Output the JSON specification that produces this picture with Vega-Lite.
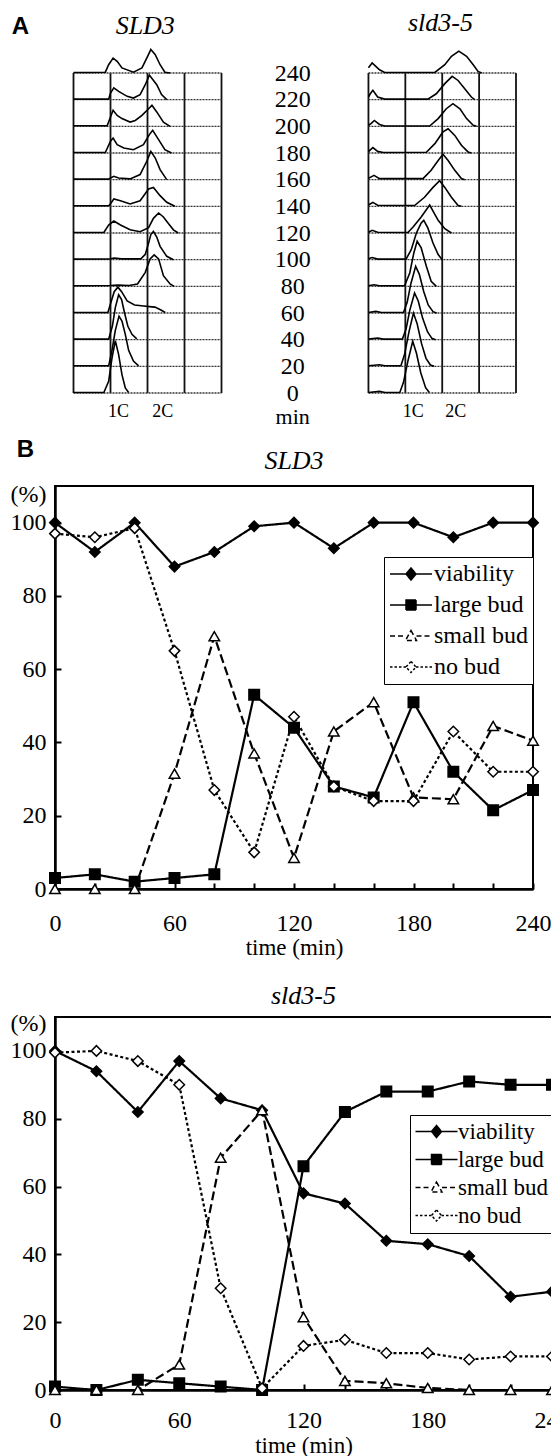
{
  "$schema": "https://vega.github.io/schema/vega-lite/v6.json",
  "background": "white",
  "padding": {"left": 9, "top": 9, "right": 0, "bottom": 0},
  "config": {
    "font": "Liberation Serif",
    "view": {"stroke": null},
    "axis": {"labelFont": "Liberation Serif", "titleFont": "Liberation Serif", "labelColor": "#000", "titleColor": "#000", "titleFontWeight": "normal", "tickColor": "#000", "domainColor": "#000"},
    "title": {"font": "Liberation Serif", "fontStyle": "italic", "fontWeight": "normal", "color": "#000", "fontSize": 26},
    "legend": {"labelFont": "Liberation Serif", "labelColor": "#000"}
  },
  "datasets": {
    "histL": [
      {"t":240,"d":0,"c":0.02},{"t":240,"d":0.5,"c":0.02},{"t":240,"d":0.86,"c":0.03},{"t":240,"d":0.95,"c":0.31},{"t":240,"d":1.07,"c":0.56},{"t":240,"d":1.18,"c":0.44},{"t":240,"d":1.31,"c":0.19},{"t":240,"d":1.62,"c":0.03},{"t":240,"d":1.85,"c":0.19},{"t":240,"d":1.98,"c":0.56},{"t":240,"d":2.09,"c":0.88},{"t":240,"d":2.21,"c":0.69},{"t":240,"d":2.34,"c":0.31},{"t":240,"d":2.47,"c":0.03},{"t":240,"d":2.61,"c":0},
      {"t":220,"d":0,"c":0.02},{"t":220,"d":0.95,"c":0.02},{"t":220,"d":1.0,"c":0.25},{"t":220,"d":1.09,"c":0.44},{"t":220,"d":1.22,"c":0.31},{"t":220,"d":1.45,"c":0.125},{"t":220,"d":1.62,"c":0.06},{"t":220,"d":1.8,"c":0.19},{"t":220,"d":1.94,"c":0.56},{"t":220,"d":2.05,"c":0.92},{"t":220,"d":2.25,"c":0.56},{"t":220,"d":2.38,"c":0.19},{"t":220,"d":2.52,"c":0},
      {"t":200,"d":0,"c":0.02},{"t":200,"d":0.91,"c":0.02},{"t":200,"d":1.0,"c":0.35},{"t":200,"d":1.07,"c":0.6},{"t":200,"d":1.18,"c":0.41},{"t":200,"d":1.31,"c":0.29},{"t":200,"d":1.53,"c":0.16},{"t":200,"d":1.67,"c":0.22},{"t":200,"d":1.85,"c":0.41},{"t":200,"d":2.03,"c":0.66},{"t":200,"d":2.12,"c":0.79},{"t":200,"d":2.25,"c":0.54},{"t":200,"d":2.43,"c":0.16},{"t":200,"d":2.61,"c":0},
      {"t":180,"d":0,"c":0.02},{"t":180,"d":0.86,"c":0.02},{"t":180,"d":1.0,"c":0.44},{"t":180,"d":1.07,"c":0.56},{"t":180,"d":1.18,"c":0.31},{"t":180,"d":1.36,"c":0.19},{"t":180,"d":1.62,"c":0.125},{"t":180,"d":1.89,"c":0.31},{"t":180,"d":2.05,"c":0.69},{"t":180,"d":2.14,"c":0.85},{"t":180,"d":2.3,"c":0.5},{"t":180,"d":2.47,"c":0.125},{"t":180,"d":2.65,"c":0},
      {"t":160,"d":0,"c":0.02},{"t":160,"d":0.95,"c":0.02},{"t":160,"d":1.0,"c":0.06},{"t":160,"d":1.09,"c":0.125},{"t":160,"d":1.22,"c":0.06},{"t":160,"d":1.53,"c":0.03},{"t":160,"d":1.8,"c":0.19},{"t":160,"d":1.98,"c":0.69},{"t":160,"d":2.09,"c":1.06},{"t":160,"d":2.21,"c":0.81},{"t":160,"d":2.34,"c":0.375},{"t":160,"d":2.52,"c":0},
      {"t":140,"d":0,"c":0.02},{"t":140,"d":0.95,"c":0.02},{"t":140,"d":1.0,"c":0.1},{"t":140,"d":1.09,"c":0.275},{"t":140,"d":1.27,"c":0.21},{"t":140,"d":1.53,"c":0.09},{"t":140,"d":1.8,"c":0.21},{"t":140,"d":2.03,"c":0.65},{"t":140,"d":2.16,"c":0.71},{"t":140,"d":2.34,"c":0.4},{"t":140,"d":2.52,"c":0.15},{"t":140,"d":2.74,"c":0},
      {"t":120,"d":0,"c":0.02},{"t":120,"d":0.82,"c":0.02},{"t":120,"d":0.95,"c":0.3},{"t":120,"d":1.09,"c":0.45},{"t":120,"d":1.27,"c":0.3},{"t":120,"d":1.53,"c":0.12},{"t":120,"d":1.8,"c":0.05},{"t":120,"d":2.03,"c":0.2},{"t":120,"d":2.16,"c":0.55},{"t":120,"d":2.3,"c":0.75},{"t":120,"d":2.43,"c":0.6},{"t":120,"d":2.57,"c":0.35},{"t":120,"d":2.7,"c":0.12},{"t":120,"d":2.83,"c":0},
      {"t":100,"d":0,"c":0.02},{"t":100,"d":1.0,"c":0.03},{"t":100,"d":1.1,"c":0.06},{"t":100,"d":1.3,"c":0.03},{"t":100,"d":1.82,"c":0.03},{"t":100,"d":1.94,"c":0.2},{"t":100,"d":2.03,"c":0.62},{"t":100,"d":2.09,"c":0.94},{"t":100,"d":2.16,"c":1.06},{"t":100,"d":2.25,"c":0.85},{"t":100,"d":2.34,"c":0.5},{"t":100,"d":2.52,"c":0.125},{"t":100,"d":2.7,"c":0},
      {"t":80,"d":0,"c":0.02},{"t":80,"d":1.0,"c":0.03},{"t":80,"d":1.2,"c":0.05},{"t":80,"d":1.5,"c":0.03},{"t":80,"d":1.73,"c":0.09},{"t":80,"d":1.94,"c":0.525},{"t":80,"d":2.07,"c":1.03},{"t":80,"d":2.18,"c":1.18},{"t":80,"d":2.3,"c":1.03},{"t":80,"d":2.43,"c":0.4},{"t":80,"d":2.61,"c":0.09},{"t":80,"d":2.72,"c":0},
      {"t":60,"d":0,"c":0.02},{"t":60,"d":0.93,"c":0.02},{"t":60,"d":1.0,"c":0.35},{"t":60,"d":1.1,"c":0.8},{"t":60,"d":1.2,"c":0.97},{"t":60,"d":1.3,"c":0.8},{"t":60,"d":1.45,"c":0.45},{"t":60,"d":1.65,"c":0.3},{"t":60,"d":1.9,"c":0.26},{"t":60,"d":2.05,"c":0.24},{"t":60,"d":2.2,"c":0.22},{"t":60,"d":2.35,"c":0.12},{"t":60,"d":2.48,"c":0.02},
      {"t":40,"d":0,"c":0.02},{"t":40,"d":0.95,"c":0.02},{"t":40,"d":1.05,"c":0.5},{"t":40,"d":1.13,"c":1.2},{"t":40,"d":1.22,"c":1.68},{"t":40,"d":1.3,"c":1.5},{"t":40,"d":1.38,"c":1.0},{"t":40,"d":1.47,"c":0.5},{"t":40,"d":1.58,"c":0.2},{"t":40,"d":1.71,"c":0.03},
      {"t":20,"d":0,"c":0.02},{"t":20,"d":0.95,"c":0.02},{"t":20,"d":1.04,"c":0.6},{"t":20,"d":1.13,"c":1.35},{"t":20,"d":1.23,"c":1.88},{"t":20,"d":1.31,"c":1.7},{"t":20,"d":1.4,"c":1.2},{"t":20,"d":1.49,"c":0.6},{"t":20,"d":1.62,"c":0.2},{"t":20,"d":1.76,"c":0.02},
      {"t":0,"d":0,"c":0.02},{"t":0,"d":0.82,"c":0.02},{"t":0,"d":0.95,"c":0.44},{"t":0,"d":1.04,"c":1.31},{"t":0,"d":1.13,"c":1.96},{"t":0,"d":1.22,"c":1.44},{"t":0,"d":1.31,"c":0.69},{"t":0,"d":1.4,"c":0.19},{"t":0,"d":1.49,"c":0.02}
    ],
    "histR": [
      {"t":240,"d":0,"c":0.2},{"t":240,"d":0.1,"c":0.375},{"t":240,"d":0.2,"c":0.25},{"t":240,"d":0.3,"c":0.12},{"t":240,"d":0.44,"c":0.02},{"t":240,"d":1.8,"c":0.02},{"t":240,"d":2.07,"c":0.31},{"t":240,"d":2.25,"c":0.625},{"t":240,"d":2.45,"c":0.82},{"t":240,"d":2.66,"c":0.625},{"t":240,"d":2.84,"c":0.31},{"t":240,"d":2.97,"c":0.06},{"t":240,"d":3.07,"c":0},
      {"t":220,"d":0,"c":0.1},{"t":220,"d":0.05,"c":0.22},{"t":220,"d":0.12,"c":0.35},{"t":220,"d":0.25,"c":0.1},{"t":220,"d":0.44,"c":0.02},{"t":220,"d":1.61,"c":0.02},{"t":220,"d":1.84,"c":0.22},{"t":220,"d":2.07,"c":0.6},{"t":220,"d":2.27,"c":0.875},{"t":220,"d":2.43,"c":0.72},{"t":220,"d":2.61,"c":0.41},{"t":220,"d":2.79,"c":0.1},{"t":220,"d":2.88,"c":0},
      {"t":200,"d":0,"c":0.04},{"t":200,"d":0.07,"c":0.1},{"t":200,"d":0.16,"c":0.22},{"t":200,"d":0.3,"c":0.07},{"t":200,"d":0.44,"c":0.01},{"t":200,"d":1.66,"c":0.01},{"t":200,"d":1.89,"c":0.29},{"t":200,"d":2.11,"c":0.66},{"t":200,"d":2.29,"c":0.85},{"t":200,"d":2.48,"c":0.66},{"t":200,"d":2.66,"c":0.29},{"t":200,"d":2.84,"c":0.04},{"t":200,"d":2.93,"c":0},
      {"t":180,"d":0,"c":0.05},{"t":180,"d":0.12,"c":0.2},{"t":180,"d":0.25,"c":0.06},{"t":180,"d":0.4,"c":0.02},{"t":180,"d":1.57,"c":0.03},{"t":180,"d":1.8,"c":0.35},{"t":180,"d":2.02,"c":0.79},{"t":180,"d":2.16,"c":0.91},{"t":180,"d":2.34,"c":0.66},{"t":180,"d":2.52,"c":0.29},{"t":180,"d":2.7,"c":0.04},{"t":180,"d":2.79,"c":0},
      {"t":160,"d":0,"c":0.05},{"t":160,"d":0.15,"c":0.16},{"t":160,"d":0.3,"c":0.04},{"t":160,"d":1.48,"c":0.04},{"t":160,"d":1.7,"c":0.35},{"t":160,"d":1.89,"c":0.72},{"t":160,"d":2.02,"c":0.95},{"t":160,"d":2.16,"c":0.72},{"t":160,"d":2.34,"c":0.35},{"t":160,"d":2.52,"c":0.04},{"t":160,"d":2.61,"c":0},
      {"t":140,"d":0,"c":0.05},{"t":140,"d":0.12,"c":0.15},{"t":140,"d":0.25,"c":0.04},{"t":140,"d":1.25,"c":0.03},{"t":140,"d":1.52,"c":0.34},{"t":140,"d":1.75,"c":0.71},{"t":140,"d":1.93,"c":0.96},{"t":140,"d":2.07,"c":0.71},{"t":140,"d":2.25,"c":0.34},{"t":140,"d":2.43,"c":0.03},{"t":140,"d":2.52,"c":0},
      {"t":120,"d":0,"c":0.03},{"t":120,"d":0.1,"c":0.1},{"t":120,"d":0.25,"c":0.03},{"t":120,"d":1.07,"c":0.02},{"t":120,"d":1.21,"c":0.225},{"t":120,"d":1.43,"c":0.6},{"t":120,"d":1.66,"c":1.05},{"t":120,"d":1.89,"c":0.475},{"t":120,"d":2.07,"c":0.16},{"t":120,"d":2.25,"c":0},
      {"t":100,"d":0,"c":0.03},{"t":100,"d":0.1,"c":0.08},{"t":100,"d":0.25,"c":0.02},{"t":100,"d":1.02,"c":0.02},{"t":100,"d":1.16,"c":0.375},{"t":100,"d":1.3,"c":1.0},{"t":100,"d":1.43,"c":1.375},{"t":100,"d":1.5,"c":1.475},{"t":100,"d":1.61,"c":1.19},{"t":100,"d":1.75,"c":0.625},{"t":100,"d":1.89,"c":0.19},{"t":100,"d":2.0,"c":0},
      {"t":80,"d":0,"c":0.02},{"t":80,"d":0.15,"c":0.06},{"t":80,"d":0.3,"c":0.02},{"t":80,"d":0.98,"c":0.02},{"t":80,"d":1.12,"c":0.5},{"t":80,"d":1.23,"c":1.25},{"t":80,"d":1.32,"c":1.69},{"t":80,"d":1.43,"c":1.44},{"t":80,"d":1.57,"c":0.75},{"t":80,"d":1.7,"c":0.19},{"t":80,"d":1.84,"c":0},
      {"t":60,"d":0,"c":0.02},{"t":60,"d":0.2,"c":0.06},{"t":60,"d":0.35,"c":0.02},{"t":60,"d":0.95,"c":0.02},{"t":60,"d":1.05,"c":0.4},{"t":60,"d":1.15,"c":1.1},{"t":60,"d":1.28,"c":1.75},{"t":60,"d":1.38,"c":1.45},{"t":60,"d":1.5,"c":0.8},{"t":60,"d":1.62,"c":0.3},{"t":60,"d":1.75,"c":0.05},{"t":60,"d":1.85,"c":0},
      {"t":40,"d":0,"c":0.02},{"t":40,"d":0.25,"c":0.06},{"t":40,"d":0.4,"c":0.02},{"t":40,"d":0.92,"c":0.02},{"t":40,"d":1.02,"c":0.4},{"t":40,"d":1.12,"c":1.1},{"t":40,"d":1.25,"c":1.75},{"t":40,"d":1.35,"c":1.45},{"t":40,"d":1.47,"c":0.8},{"t":40,"d":1.6,"c":0.3},{"t":40,"d":1.72,"c":0.05},{"t":40,"d":1.82,"c":0},
      {"t":20,"d":0,"c":0.02},{"t":20,"d":0.3,"c":0.06},{"t":20,"d":0.45,"c":0.02},{"t":20,"d":0.88,"c":0.02},{"t":20,"d":0.98,"c":0.45},{"t":20,"d":1.1,"c":1.3},{"t":20,"d":1.22,"c":2.0},{"t":20,"d":1.32,"c":1.6},{"t":20,"d":1.44,"c":0.85},{"t":20,"d":1.56,"c":0.3},{"t":20,"d":1.68,"c":0.05},{"t":20,"d":1.78,"c":0},
      {"t":0,"d":0,"c":0.02},{"t":0,"d":0.3,"c":0.06},{"t":0,"d":0.45,"c":0.02},{"t":0,"d":0.85,"c":0.02},{"t":0,"d":0.95,"c":0.4},{"t":0,"d":1.07,"c":1.2},{"t":0,"d":1.2,"c":1.94},{"t":0,"d":1.3,"c":1.5},{"t":0,"d":1.42,"c":0.75},{"t":0,"d":1.55,"c":0.2},{"t":0,"d":1.65,"c":0.02}
    ],
    "bud1": [
      {"time":0,"series":"viability","v":100},{"time":20,"series":"viability","v":92},{"time":40,"series":"viability","v":100},{"time":60,"series":"viability","v":88},{"time":80,"series":"viability","v":92},{"time":100,"series":"viability","v":99},{"time":120,"series":"viability","v":100},{"time":140,"series":"viability","v":93},{"time":160,"series":"viability","v":100},{"time":180,"series":"viability","v":100},{"time":200,"series":"viability","v":96},{"time":220,"series":"viability","v":100},{"time":240,"series":"viability","v":100},
      {"time":0,"series":"large bud","v":3},{"time":20,"series":"large bud","v":4},{"time":40,"series":"large bud","v":2},{"time":60,"series":"large bud","v":3},{"time":80,"series":"large bud","v":4},{"time":100,"series":"large bud","v":53},{"time":120,"series":"large bud","v":44},{"time":140,"series":"large bud","v":28},{"time":160,"series":"large bud","v":25},{"time":180,"series":"large bud","v":51},{"time":200,"series":"large bud","v":32},{"time":220,"series":"large bud","v":21.5},{"time":240,"series":"large bud","v":27},
      {"time":0,"series":"small bud","v":0},{"time":20,"series":"small bud","v":0},{"time":40,"series":"small bud","v":0},{"time":60,"series":"small bud","v":31.5},{"time":80,"series":"small bud","v":69},{"time":100,"series":"small bud","v":37},{"time":120,"series":"small bud","v":8.5},{"time":140,"series":"small bud","v":43},{"time":160,"series":"small bud","v":51},{"time":180,"series":"small bud","v":25},{"time":200,"series":"small bud","v":24.5},{"time":220,"series":"small bud","v":44.5},{"time":240,"series":"small bud","v":40.5},
      {"time":0,"series":"no bud","v":97},{"time":20,"series":"no bud","v":96},{"time":40,"series":"no bud","v":98.5},{"time":60,"series":"no bud","v":65},{"time":80,"series":"no bud","v":27},{"time":100,"series":"no bud","v":10},{"time":120,"series":"no bud","v":47},{"time":140,"series":"no bud","v":28},{"time":160,"series":"no bud","v":24},{"time":180,"series":"no bud","v":24},{"time":200,"series":"no bud","v":43},{"time":220,"series":"no bud","v":32},{"time":240,"series":"no bud","v":32}
    ],
    "bud2": [
      {"time":0,"series":"viability","v":100},{"time":20,"series":"viability","v":94},{"time":40,"series":"viability","v":82},{"time":60,"series":"viability","v":97},{"time":80,"series":"viability","v":86},{"time":100,"series":"viability","v":82.5},{"time":120,"series":"viability","v":58},{"time":140,"series":"viability","v":55},{"time":160,"series":"viability","v":44},{"time":180,"series":"viability","v":43},{"time":200,"series":"viability","v":39.5},{"time":220,"series":"viability","v":27.5},{"time":240,"series":"viability","v":29},
      {"time":0,"series":"large bud","v":1},{"time":20,"series":"large bud","v":0},{"time":40,"series":"large bud","v":3},{"time":60,"series":"large bud","v":2},{"time":80,"series":"large bud","v":1},{"time":100,"series":"large bud","v":0},{"time":120,"series":"large bud","v":66},{"time":140,"series":"large bud","v":82},{"time":160,"series":"large bud","v":88},{"time":180,"series":"large bud","v":88},{"time":200,"series":"large bud","v":91},{"time":220,"series":"large bud","v":90},{"time":240,"series":"large bud","v":90},
      {"time":0,"series":"small bud","v":0},{"time":20,"series":"small bud","v":0},{"time":40,"series":"small bud","v":0},{"time":60,"series":"small bud","v":7.5},{"time":80,"series":"small bud","v":68.5},{"time":100,"series":"small bud","v":82.5},{"time":120,"series":"small bud","v":21.5},{"time":140,"series":"small bud","v":2.7},{"time":160,"series":"small bud","v":2},{"time":180,"series":"small bud","v":0.6},{"time":200,"series":"small bud","v":0},{"time":220,"series":"small bud","v":0},{"time":240,"series":"small bud","v":0},
      {"time":0,"series":"no bud","v":99.5},{"time":20,"series":"no bud","v":100},{"time":40,"series":"no bud","v":97},{"time":60,"series":"no bud","v":90},{"time":80,"series":"no bud","v":30},{"time":100,"series":"no bud","v":0.5},{"time":120,"series":"no bud","v":13},{"time":140,"series":"no bud","v":14.8},{"time":160,"series":"no bud","v":10.9},{"time":180,"series":"no bud","v":10.9},{"time":200,"series":"no bud","v":9},{"time":220,"series":"no bud","v":9.9},{"time":240,"series":"no bud","v":9.9}
    ]
  },
  "concat": [
    {
      "hconcat": [
        {
          "width": 166.5, "height": 320,
          "view": {"stroke": null},
          "title": {"text": "SLD3", "dx": 7, "offset": -25},
          "layer": [
            {"data": {"values": [{"g":0},{"g":1},{"g":2},{"g":3},{"g":4}]},
             "mark": {"type": "rule", "color": "#111", "strokeWidth": 1.8},
             "encoding": {"x": {"field": "g", "type": "quantitative", "scale": {"domain": [-0.5, 4], "nice": false, "zero": false},
               "axis": {"values": [1.2, 2.4], "labelExpr": "datum.value < 2 ? '1C' : '2C'", "title": null, "ticks": false, "domain": false, "grid": false, "labelFontSize": 18, "labelPadding": 9, "labelFlush": false, "labelOverlap": false}}}},
            {"data": {"name": "histL"}, "transform": [{"aggregate": [{"op": "count", "as": "n"}], "groupby": ["t"]}],
             "mark": {"type": "rule", "color": "#333", "strokeWidth": 1.3, "strokeDash": [2, 1]},
             "encoding": {
               "y": {"field": "t", "type": "ordinal", "scale": {"type": "point", "padding": 0, "domain": [240,220,200,180,160,140,120,100,80,60,40,20,0]},
                 "axis": {"title": "A", "labels": false, "ticks": false, "domain": false, "grid": false, "titleFont": "Liberation Sans", "titleFontWeight": "bold", "titleFontSize": 24, "titleAngle": 0, "titleAlign": "center", "titleBaseline": "middle", "titleX": -35, "titleY": -47}},
               "x": {"datum": 0}, "x2": {"datum": 4}}},
            {"data": {"name": "histL"},
             "mark": {"type": "line", "color": "#000", "strokeWidth": 1.6},
             "encoding": {
               "x": {"field": "d", "type": "quantitative", "scale": {"domain": [-0.5, 4], "nice": false, "zero": false}},
               "y": {"field": "t", "type": "ordinal", "scale": {"type": "point", "padding": 0, "domain": [240,220,200,180,160,140,120,100,80,60,40,20,0]}},
               "yOffset": {"field": "c", "type": "quantitative", "scale": {"domain": [0, 1], "range": [0, -26.667], "nice": false, "zero": false}},
               "detail": {"field": "t", "type": "ordinal"},
               "order": {"field": "d", "type": "quantitative"}}}
          ]
        },
        {
          "width": 166, "height": 320,
          "view": {"stroke": null},
          "title": {"text": "sld3-5", "dx": 7.5, "offset": 12},
          "layer": [
            {"data": {"values": [{"g":0},{"g":1},{"g":2},{"g":3},{"g":4}]},
             "mark": {"type": "rule", "color": "#111", "strokeWidth": 1.8},
             "encoding": {"x": {"field": "g", "type": "quantitative", "scale": {"domain": [-0.5, 4], "nice": false, "zero": false},
               "axis": {"values": [1.2, 2.35], "labelExpr": "datum.value < 2 ? '1C' : '2C'", "title": null, "ticks": false, "domain": false, "grid": false, "labelFontSize": 18, "labelPadding": 9, "labelFlush": false, "labelOverlap": false}}}},
            {"data": {"name": "histR"}, "transform": [{"aggregate": [{"op": "count", "as": "n"}], "groupby": ["t"]}],
             "mark": {"type": "rule", "color": "#333", "strokeWidth": 1.3, "strokeDash": [2, 1]},
             "encoding": {
               "y": {"field": "t", "type": "ordinal", "scale": {"type": "point", "padding": 0, "domain": [240,220,200,180,160,140,120,100,80,60,40,20,0]},
                 "axis": {"title": "min", "titleAngle": 0, "titleAlign": "center", "titleBaseline": "middle", "titleX": -57.8, "titleY": 343, "titleFontSize": 22, "labelFontSize": 24, "labelAlign": "center", "labelBaseline": "middle", "labelPadding": 57.8, "labelOverlap": false, "ticks": false, "domain": false, "grid": false}},
               "x": {"datum": 0}, "x2": {"datum": 4}}},
            {"data": {"name": "histR"},
             "mark": {"type": "line", "color": "#000", "strokeWidth": 1.6},
             "encoding": {
               "x": {"field": "d", "type": "quantitative", "scale": {"domain": [-0.5, 4], "nice": false, "zero": false}},
               "y": {"field": "t", "type": "ordinal", "scale": {"type": "point", "padding": 0, "domain": [240,220,200,180,160,140,120,100,80,60,40,20,0]}},
               "yOffset": {"field": "c", "type": "quantitative", "scale": {"domain": [0, 1], "range": [0, -26.667], "nice": false, "zero": false}},
               "detail": {"field": "t", "type": "ordinal"},
               "order": {"field": "d", "type": "quantitative"}}}
          ]
        }
      ],
      "spacing": 128,
      "bounds": "flush"
    },
    {
      "width": 478, "height": 403,
      "view": {"stroke": "#000", "strokeWidth": 2},
      "title": {"text": "SLD3", "offset": -37},
      "data": {"name": "bud1"},
      "layer": [
        {"mark": {"type": "line", "color": "#000", "strokeWidth": 2.2},
         "encoding": {
           "x": {"field": "time", "type": "quantitative", "scale": {"domain": [0, 240], "nice": false},
             "axis": {"orient": "bottom", "values": [0,60,120,180,240], "title": "time (min)", "titleFontSize": 23, "titlePadding": 1, "labelFontSize": 24, "labelPadding": 22, "ticks": false, "domainWidth": 2.5, "grid": false, "labelFlush": false, "labelOverlap": false}},
           "y": {"field": "v", "type": "quantitative", "scale": {"domain": [0, 110], "nice": false},
             "axis": {"values": [0,20,40,60,80,100,107.6], "labelExpr": "datum.value > 101 ? '(%)' : datum.label", "title": "B", "titleFont": "Liberation Sans", "titleFontWeight": "bold", "titleFontSize": 24, "titleAngle": 0, "titleAlign": "center", "titleBaseline": "middle", "titleX": -30, "titleY": -37, "labelFontSize": 24, "labelPadding": 15, "tickOpacity": {"condition": {"test": "datum.value > 101", "value": 0}, "value": 1}, "tickSize": -6, "tickWidth": 2, "domainWidth": 2.5, "grid": false, "labelFlush": false, "labelOverlap": false}},
           "strokeDash": {"field": "series", "type": "nominal", "scale": {"domain": ["viability","large bud","small bud","no bud"], "range": [[1,0],[1,0],[9,4],[3,2.5]]}, "legend": null}
         }},
        {"mark": {"type": "point", "stroke": "#000", "strokeWidth": 1.5, "opacity": 1, "size": 110},
         "encoding": {
           "x": {"field": "time", "type": "quantitative", "scale": {"domain": [0, 240], "nice": false},
             "axis": {"orient": "bottom", "values": [0,20,40,60,80,100,120,140,160,180,200,220,240], "labels": false, "domain": false, "grid": false, "title": null, "tickSize": -6, "tickWidth": 2}},
           "y": {"field": "v", "type": "quantitative", "scale": {"domain": [0, 110], "nice": false}},
           "shape": {"field": "series", "type": "nominal", "scale": {"domain": ["viability","large bud","small bud","no bud"], "range": ["diamond","square","triangle-up","diamond"]}, "legend": null},
           "fill": {"field": "series", "type": "nominal", "scale": {"domain": ["viability","large bud","small bud","no bud"], "range": ["#000","#000","#fff","#fff"]}, "legend": null}
         }},
        {"transform": [{"filter": "false"}],
         "mark": {"type": "point", "stroke": "#000", "strokeWidth": 1.5, "opacity": 1},
         "encoding": {
           "shape": {"field": "series", "type": "nominal", "scale": {"domain": ["viability","large bud","small bud","no bud"], "range": ["M-4.2,0H4.2M0,-1.2L1,0L0,1.2L-1,0Z","M-4.2,0H4.2M-1,-1H1V1H-1Z","M-4.2,0H-1.1M1.1,0H4.2M0,-1.1L1.1,0.9L-1.1,0.9Z","M-4.2,0H-1M1,0H4.2M0,-1.1L1,0L0,1.1L-1,0Z"]},
             "legend": {"title": null, "orient": "none", "legendX": 329, "legendY": 71, "strokeColor": "#000", "fillColor": "#fff", "padding": 5, "symbolSize": 100, "symbolStrokeWidth": 1.5, "labelFontSize": 24, "rowPadding": 7, "labelOffset": 11, "symbolOffset": 10}},
           "fill": {"field": "series", "type": "nominal", "scale": {"domain": ["viability","large bud","small bud","no bud"], "range": ["#000","#000","#fff","#fff"]},
             "legend": {"title": null, "orient": "none", "legendX": 329, "legendY": 71, "strokeColor": "#000", "fillColor": "#fff", "padding": 5, "symbolSize": 100, "symbolStrokeWidth": 1.5, "labelFontSize": 24, "rowPadding": 7, "labelOffset": 11, "symbolOffset": 10}},
           "stroke": {"field": "series", "type": "nominal", "scale": {"domain": ["viability","large bud","small bud","no bud"], "range": ["#000","#000","#000","#000"]},
             "legend": {"title": null, "orient": "none", "legendX": 329, "legendY": 71, "strokeColor": "#000", "fillColor": "#fff", "padding": 5, "symbolSize": 100, "symbolStrokeWidth": 1.5, "labelFontSize": 24, "rowPadding": 7, "labelOffset": 11, "symbolOffset": 10}},
           "strokeDash": {"field": "series", "type": "nominal", "scale": {"domain": ["viability","large bud","small bud","no bud"], "range": [[1,0],[1,0],[5,3],[2.5,2]]},
             "legend": {"title": null, "orient": "none", "legendX": 329, "legendY": 71, "strokeColor": "#000", "fillColor": "#fff", "padding": 5, "symbolSize": 100, "symbolStrokeWidth": 1.5, "labelFontSize": 24, "rowPadding": 7, "labelOffset": 11, "symbolOffset": 10}}
         }}
      ],
      "resolve": {"scale": {"shape": "independent", "fill": "independent", "stroke": "independent", "strokeDash": "independent"}, "axis": {"x": "independent"}}
    },
    {
      "width": 497, "height": 373,
      "view": {"stroke": "#000", "strokeWidth": 2},
      "title": {"text": ["", "sld3-5"], "lineHeight": 13, "offset": 2},
      "data": {"name": "bud2"},
      "layer": [
        {"mark": {"type": "line", "color": "#000", "strokeWidth": 2.2},
         "encoding": {
           "x": {"field": "time", "type": "quantitative", "scale": {"domain": [0, 240], "nice": false},
             "axis": {"orient": "bottom", "values": [0,60,120,180,240], "title": "time (min)", "titleFontSize": 23, "titlePadding": 2, "labelFontSize": 24, "labelPadding": 18, "ticks": false, "domainWidth": 2.5, "grid": false, "labelFlush": false, "labelOverlap": false}},
           "y": {"field": "v", "type": "quantitative", "scale": {"domain": [0, 110], "nice": false},
             "axis": {"values": [0,20,40,60,80,100,108.2], "labelExpr": "datum.value > 101 ? '(%)' : datum.label", "title": null, "labelFontSize": 24, "labelPadding": 15, "tickOpacity": {"condition": {"test": "datum.value > 101", "value": 0}, "value": 1}, "tickSize": -6, "tickWidth": 2, "domainWidth": 2.5, "grid": false, "labelFlush": false, "labelOverlap": false}},
           "strokeDash": {"field": "series", "type": "nominal", "scale": {"domain": ["viability","large bud","small bud","no bud"], "range": [[1,0],[1,0],[9,4],[3,2.5]]}, "legend": null}
         }},
        {"mark": {"type": "point", "stroke": "#000", "strokeWidth": 1.5, "opacity": 1, "size": 110},
         "encoding": {
           "x": {"field": "time", "type": "quantitative", "scale": {"domain": [0, 240], "nice": false},
             "axis": {"orient": "bottom", "values": [0,20,40,60,80,100,120,140,160,180,200,220,240], "labels": false, "domain": false, "grid": false, "title": null, "tickSize": -6, "tickWidth": 2}},
           "y": {"field": "v", "type": "quantitative", "scale": {"domain": [0, 110], "nice": false}},
           "shape": {"field": "series", "type": "nominal", "scale": {"domain": ["viability","large bud","small bud","no bud"], "range": ["diamond","square","triangle-up","diamond"]}, "legend": null},
           "fill": {"field": "series", "type": "nominal", "scale": {"domain": ["viability","large bud","small bud","no bud"], "range": ["#000","#000","#fff","#fff"]}, "legend": null}
         }},
        {"transform": [{"filter": "false"}],
         "mark": {"type": "point", "stroke": "#000", "strokeWidth": 1.5, "opacity": 1},
         "encoding": {
           "shape": {"field": "series", "type": "nominal", "scale": {"domain": ["viability","large bud","small bud","no bud"], "range": ["M-4.2,0H4.2M0,-1.2L1,0L0,1.2L-1,0Z","M-4.2,0H4.2M-1,-1H1V1H-1Z","M-4.2,0H-1.1M1.1,0H4.2M0,-1.1L1.1,0.9L-1.1,0.9Z","M-4.2,0H-1M1,0H4.2M0,-1.1L1,0L0,1.1L-1,0Z"]},
             "legend": {"title": null, "orient": "none", "legendX": 355, "legendY": 98, "strokeColor": "#000", "fillColor": "#fff", "padding": 5, "symbolSize": 100, "symbolStrokeWidth": 1.5, "labelFontSize": 23, "rowPadding": 4, "labelOffset": 10, "symbolOffset": 10}},
           "fill": {"field": "series", "type": "nominal", "scale": {"domain": ["viability","large bud","small bud","no bud"], "range": ["#000","#000","#fff","#fff"]},
             "legend": {"title": null, "orient": "none", "legendX": 355, "legendY": 98, "strokeColor": "#000", "fillColor": "#fff", "padding": 5, "symbolSize": 100, "symbolStrokeWidth": 1.5, "labelFontSize": 23, "rowPadding": 4, "labelOffset": 10, "symbolOffset": 10}},
           "stroke": {"field": "series", "type": "nominal", "scale": {"domain": ["viability","large bud","small bud","no bud"], "range": ["#000","#000","#000","#000"]},
             "legend": {"title": null, "orient": "none", "legendX": 355, "legendY": 98, "strokeColor": "#000", "fillColor": "#fff", "padding": 5, "symbolSize": 100, "symbolStrokeWidth": 1.5, "labelFontSize": 23, "rowPadding": 4, "labelOffset": 10, "symbolOffset": 10}},
           "strokeDash": {"field": "series", "type": "nominal", "scale": {"domain": ["viability","large bud","small bud","no bud"], "range": [[1,0],[1,0],[5,3],[2.5,2]]},
             "legend": {"title": null, "orient": "none", "legendX": 355, "legendY": 98, "strokeColor": "#000", "fillColor": "#fff", "padding": 5, "symbolSize": 100, "symbolStrokeWidth": 1.5, "labelFontSize": 23, "rowPadding": 4, "labelOffset": 10, "symbolOffset": 10}}
         }}
      ],
      "resolve": {"scale": {"shape": "independent", "fill": "independent", "stroke": "independent", "strokeDash": "independent"}, "axis": {"x": "independent"}}
    }
  ],
  "columns": 1,
  "align": {"row": "none", "column": "each"},
  "spacing": 9
}
